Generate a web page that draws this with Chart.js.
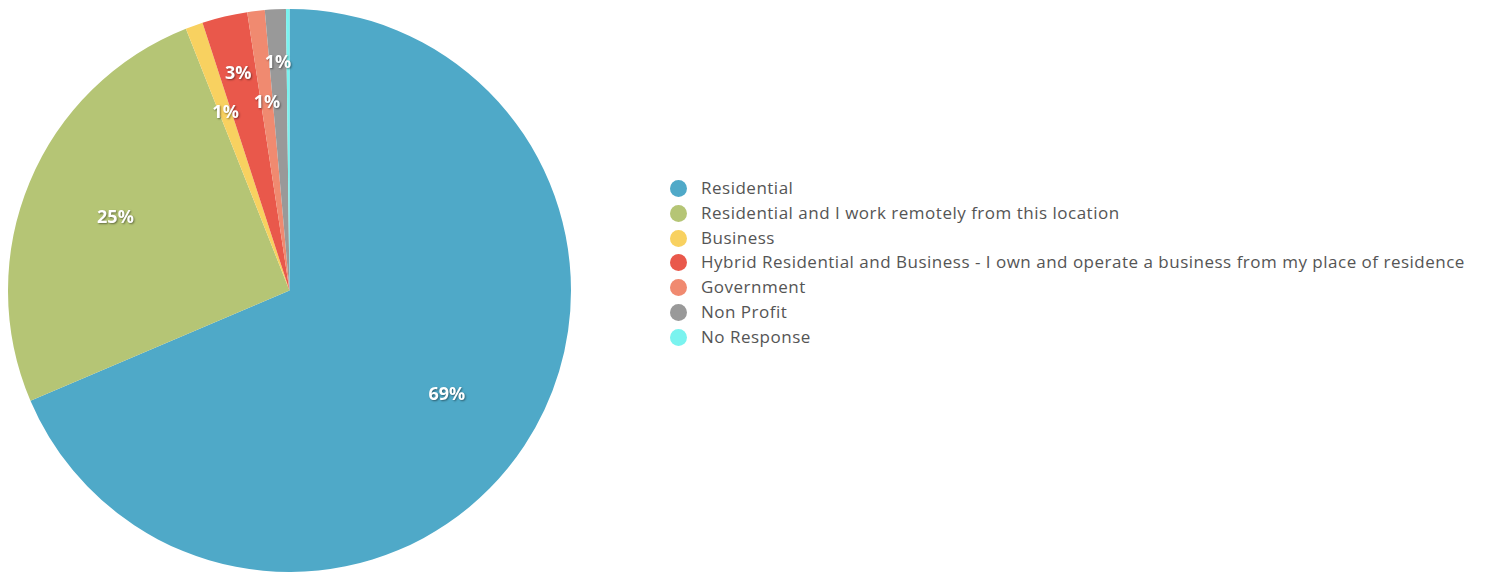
<!DOCTYPE html>
<html>
<head>
<meta charset="utf-8">
<script src="https://cdn.jsdelivr.net/npm/chart.js@4.4.0/dist/chart.umd.min.js"></script>
<style>
    html, body { margin: 0; padding: 0; background: #fff; }
    body { width: 1485px; height: 572px; position: relative; overflow: hidden; font-family: "Open Sans", Lato, sans-serif; }
    #pieWrap { position: absolute; left: 8px; top: 9px; width: 563px; height: 563px; }
    #legend { position: absolute; left: 670px; top: 176px; list-style: none; margin: 0; padding: 0; }
    #legend li { height: 24.8px; line-height: 24.8px; font-size: 17px; letter-spacing: 0.5px; color: #555; white-space: nowrap; }
    #legend .dot { display: inline-block; width: 17px; height: 17px; border-radius: 50%; vertical-align: -3px; margin-right: 14px; }
</style>
</head>
<body>
<div id="pieWrap"><canvas id="usageChart"></canvas></div>
<ul id="legend"></ul>
<script>
// Property use categories and their share of responses (%)
const categories = [
    'Residential',
    'Residential and I work remotely from this location',
    'Business',
    'Hybrid Residential and Business - I own and operate a business from my place of residence',
    'Government',
    'Non Profit',
    'No Response'
];
const shares = [68.6, 25.4, 1.0, 2.6, 1.0, 1.2, 0.2];
const colors = ['#4fa9c8', '#b5c575', '#f8d160', '#e9584b', '#f08a70', '#999999', '#7af3ef'];

// how far out (fraction of radius) each slice label sits
const labelRadius = [0.67, 0.67, 0.67, 0.79, 0.67, 0.81, 0.67];

// white percentage labels inside the slices
const sliceLabels = {
    id: 'sliceLabels',
    afterDatasetsDraw(chart) {
        const ctx = chart.ctx;
        const meta = chart.getDatasetMeta(0);
        ctx.save();
        ctx.font = 'bold 18px "Open Sans", Lato, sans-serif';
        ctx.fillStyle = '#fff';
        ctx.textAlign = 'center';
        ctx.textBaseline = 'middle';
        ctx.shadowColor = 'rgba(0, 0, 0, 0.45)';
        ctx.shadowBlur = 2;
        ctx.shadowOffsetX = 1;
        ctx.shadowOffsetY = 1;
        meta.data.forEach((arc, i) => {
            const pct = Math.round(shares[i]);
            if (pct < 1) return;
            const mid = (arc.startAngle + arc.endAngle) / 2;
            const r = arc.outerRadius * labelRadius[i];
            ctx.fillText(pct + '%', arc.x + Math.cos(mid) * r, arc.y + Math.sin(mid) * r);
        });
        ctx.restore();
    }
};

const usageCtx = document.getElementById('usageChart').getContext('2d');
const usageChart = new Chart(usageCtx, {
    type: 'pie',
    data: {
        labels: categories,
        datasets: [{
            data: shares,
            backgroundColor: colors,
            borderWidth: 0
        }]
    },
    options: {
        responsive: true,
        maintainAspectRatio: false,
        animation: false,
        layout: { padding: 0 },
        plugins: {
            legend: { display: false },
            tooltip: { enabled: false }
        }
    },
    plugins: [sliceLabels]
});

// Legend list on the right
const legendEl = document.getElementById('legend');
categories.forEach((name, i) => {
    const li = document.createElement('li');
    const dot = document.createElement('span');
    dot.className = 'dot';
    dot.style.background = colors[i];
    li.appendChild(dot);
    li.appendChild(document.createTextNode(name));
    legendEl.appendChild(li);
});
</script>
</body>
</html>
